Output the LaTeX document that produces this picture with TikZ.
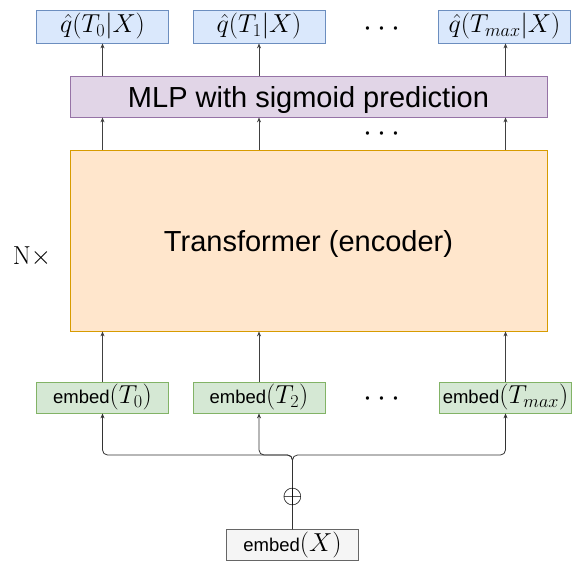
\RequirePackage{fix-cm}
\documentclass[tikz,border=0pt]{standalone}
\usepackage{fontspec}
\setsansfont{Liberation Sans}
\usetikzlibrary{arrows.meta}
\definecolor{bluefill}{HTML}{DAE8FC}
\definecolor{blueline}{HTML}{6C8EBF}
\definecolor{purpfill}{HTML}{E1D5E7}
\definecolor{purpline}{HTML}{9673A6}
\definecolor{orfill}{HTML}{FFE6CC}
\definecolor{orline}{HTML}{D79B00}
\definecolor{grfill}{HTML}{D5E8D4}
\definecolor{grline}{HTML}{82B366}
\definecolor{gyfill}{HTML}{F5F5F5}
\definecolor{gyline}{HTML}{666666}
\newcommand{\mfs}{\fontsize{26}{28}\selectfont}
\newcommand{\dfs}{\fontsize{32}{34}\selectfont}
\newcommand{\efs}{\fontsize{18.5}{20}\selectfont\sffamily}
\newcommand{\bfsz}{\fontsize{29}{31}\selectfont\sffamily}
\tikzset{
  box/.style={draw, line width=0.8pt, inner sep=0pt, minimum width=132pt, anchor=center},
  qbox/.style={box, fill=bluefill, draw=blueline, minimum height=33pt, font=\mfs},
  ebox/.style={box, fill=grfill, draw=grline, minimum height=31pt},
  xbox/.style={box, fill=gyfill, draw=gyline, minimum height=31pt},
  bigbox/.style={line width=0.8pt, minimum width=477pt, inner sep=0pt, font=\bfsz, text depth=0pt},
  arr/.style={draw=black!75, line width=0.8pt, -{Stealth[length=5pt,width=4pt]}},
  bus/.style={draw=black!80, line width=0.8pt, rounded corners=5pt, -{Stealth[length=5pt,width=4pt]}},
}
\begin{document}
\begin{tikzpicture}[x=1pt,y=-1pt]
\useasboundingbox (0,0) rectangle (573,561);
% top output boxes
\node[qbox] (q0) at (102.5,26.5) {$\hat q(T_0|X)$};
\node[qbox] (q1) at (259,26.5) {$\hat q(T_1|X)$};
\node[qbox] (q2) at (504.5,26.5) {$\hat q(T_{max}|X)$};
\node[font=\dfs] (d1) at (382,29) {$\cdots$};
% MLP
\node[bigbox, draw=purpline, fill=purpfill, minimum height=41pt] (mlp) at (308.5,96.5) {MLP with sigmoid prediction};
\node[font=\dfs] (d2) at (382,134) {$\cdots$};
% transformer
\node[bigbox, draw=orline, fill=orfill, minimum height=181pt] (tr) at (308.5,240.5) {Transformer (encoder)};
\node[font=\mfs] (nx) at (32,257) {N$\times$};
% embed boxes
\node[ebox] (e0) at (102.5,397.5) {\efs embed{\mfs$(T_0)$}};
\node[ebox] (e1) at (259,397.5) {\efs embed{\mfs$(T_2)$}};
\node[ebox] (e2) at (505.5,397.5) {\efs embed{\mfs$(T_{max})$}};
\node[font=\dfs] (d3) at (382,399) {$\cdots$};
% input
\node[xbox] (ex) at (292.5,545) {\efs embed{\mfs$(X)$}};
\coordinate (j) at (292.5,455);
% arrows up
\draw[arr] (e0.north) -- (tr.south -| e0.north);
\draw[arr] (e1.north) -- (tr.south -| e1.north);
\draw[arr] (e2.north) -- (tr.south -| e2.north);
\draw[arr] (tr.north -| q0.south) -- (mlp.south -| q0.south);
\draw[arr] (tr.north -| q1.south) -- (mlp.south -| q1.south);
\draw[arr] (tr.north -| e2.north) -- (mlp.south -| e2.north);
\draw[arr] (mlp.north -| q0.south) -- (q0.south);
\draw[arr] (mlp.north -| q1.south) -- (q1.south);
\draw[arr] (mlp.north -| e2.north) -- (q2.south -| e2.north);
% bus
\draw[bus] (ex.north) -- (j) -| (e0.south);
\draw[bus] (ex.north) -- (j) -| (e1.south);
\draw[bus] (ex.north) -- (j) -| (e2.south);
\node[font=\mfs, inner sep=0pt] (op) at (292.5,497) {$\oplus$};
\end{tikzpicture}
\end{document}
